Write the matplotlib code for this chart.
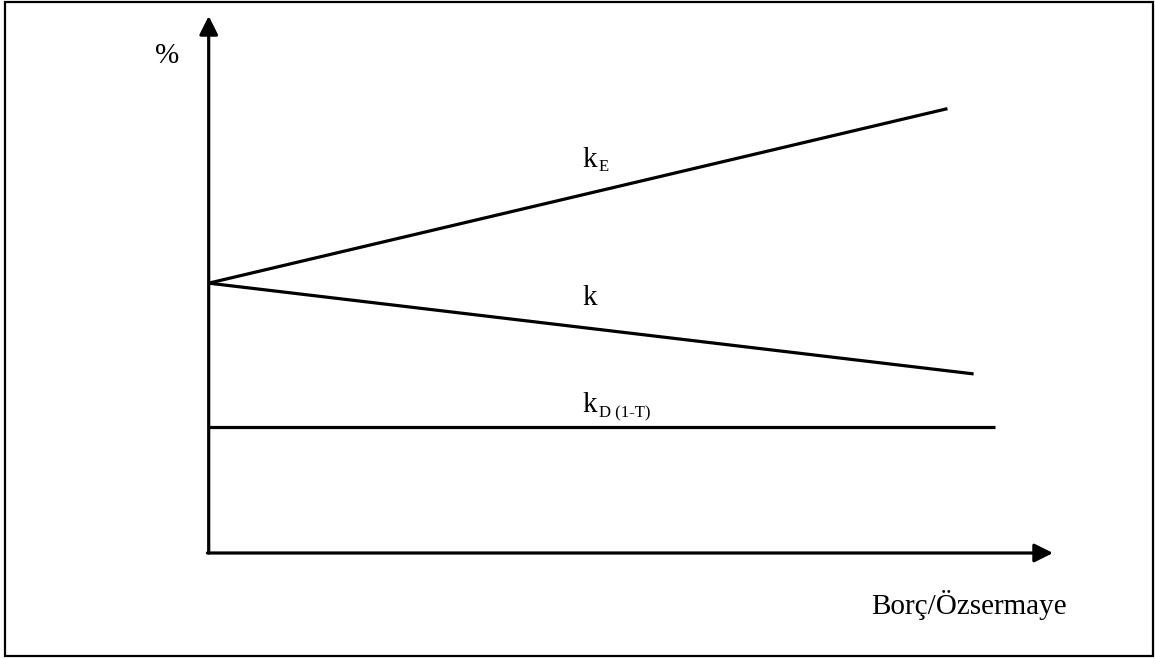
import matplotlib
matplotlib.use("Agg")
import matplotlib.pyplot as plt
from matplotlib.patches import Rectangle

plt.rcParams['font.family'] = ['Liberation Serif', 'DejaVu Serif']

# schematic cost of capital vs leverage (arbitrary units)
debt_equity = [0, 8.75]        # x ends of k_E
cost_equity = [10.05, 16.55]   # k_E
debt_equity_k = [0, 9.06]
wacc = [10.05, 6.67]           # k
debt_equity_d = [0, 9.31]
cost_debt_after_tax = [4.69, 4.69]  # k_D (1-T)

W, H = 1155, 659


def px(x, y):
    # pixel position -> figure fraction
    return x / W, 1 - y / H


fig = plt.figure(figsize=(W / 100, H / 100), dpi=100)

# outer frame
fig.patches.append(Rectangle(px(5, 656), (1153 - 5) / W, (656 - 2) / H,
                             transform=fig.transFigure, fill=False,
                             edgecolor='black', linewidth=1.6))

# axes box: origin at (208.7, 553), arrow tips at x=1053 and y=16
x0, y0 = px(208.7, 553)
x1, y1 = px(1053, 16)
ax = fig.add_axes([x0, y0, x1 - x0, y1 - y0])
ax.set_xlim(0, 10)
ax.set_ylim(0, 20)
ax.axis('off')

lw = 2.3
ax.plot(debt_equity, cost_equity, color='black', lw=lw, solid_capstyle='butt', clip_on=False)
ax.plot(debt_equity_k, wacc, color='black', lw=lw, solid_capstyle='butt', clip_on=False)
ax.plot(debt_equity_d, cost_debt_after_tax, color='black', lw=lw, solid_capstyle='butt', clip_on=False)

# axes with arrow heads
arrow = dict(arrowstyle='-|>,head_length=0.8,head_width=0.4', color='black',
             lw=lw, shrinkA=0, shrinkB=0, mutation_scale=14)
ax.annotate('', xy=(10, 0), xytext=(-0.015, 0), arrowprops=arrow, annotation_clip=False)
ax.annotate('', xy=(0, 20), xytext=(0, 0), arrowprops=arrow, annotation_clip=False)

big = 21
small = 12
fig.text(*px(155, 63), '%', fontsize=big, va='baseline', ha='left')
fig.text(*px(582, 167), 'k', fontsize=big, va='baseline', ha='left')
fig.text(*px(599, 171), 'E', fontsize=small, va='baseline', ha='left')
fig.text(*px(582, 305), 'k', fontsize=big, va='baseline', ha='left')
fig.text(*px(582, 412), 'k', fontsize=big, va='baseline', ha='left')
fig.text(*px(599, 417), 'D (1-T)', fontsize=small, va='baseline', ha='left')
fig.text(*px(871, 614), 'Borç/Özsermaye', fontsize=big, va='baseline', ha='left')

fig.savefig('out.png', dpi=100)
